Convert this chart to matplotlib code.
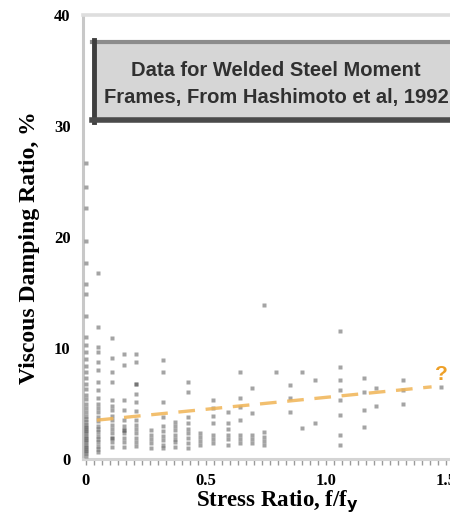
import matplotlib
matplotlib.use("Agg")
import matplotlib.pyplot as plt
from matplotlib.patches import Rectangle
from matplotlib.lines import Line2D
from matplotlib.ticker import MultipleLocator

# stress ratio columns and the damping ratios (%) measured at each one
ratio_cols = [0.0, 0.05, 0.11, 0.16, 0.21, 0.27, 0.32, 0.37, 0.425, 0.475,
              0.53, 0.59, 0.64, 0.69, 0.74, 0.79, 0.85, 0.90, 0.955,
              1.06, 1.16, 1.21, 1.32, 1.48]
damping_cols = [
    [0.3, 0.5, 0.7, 0.9, 1.1, 1.3, 1.5, 1.7, 1.9, 2.1, 2.3, 2.5, 2.7, 2.9,
     3.1, 3.3, 3.6, 3.9, 4.2, 4.6, 5.0, 5.4, 5.8, 6.3, 6.8, 7.3, 7.8, 8.4,
     9.0, 9.6, 10.3, 11.0, 12.9, 14.9, 15.8, 17.7, 19.6, 22.6, 24.5, 26.7],
    [0.6, 0.9, 1.2, 1.5, 1.8, 2.1, 2.4, 2.7, 3.0, 3.4, 3.8, 4.2, 4.6, 5.0,
     5.5, 6.2, 6.9, 8.0, 8.7, 9.6, 10.1, 11.9, 16.8],
    [1.1, 1.5, 1.9, 1.9, 2.3, 2.7, 3.1, 3.5, 3.9, 4.4, 4.8, 5.3, 6.9, 7.8,
     9.1, 10.9],
    [1.1, 1.5, 1.9, 2.3, 2.6, 2.6, 3.0, 3.5, 4.4, 5.3, 8.5, 9.5],
    [1.2, 1.5, 1.9, 2.3, 2.7, 3.1, 3.5, 4.3, 5.1, 5.9, 6.8, 6.8, 8.7, 9.5],
    [1.0, 1.4, 1.8, 2.2, 2.6],
    [1.0, 1.3, 1.7, 2.1, 2.5, 3.0, 3.8, 5.1, 7.8, 8.9],
    [1.1, 1.5, 1.8, 2.2, 2.6, 3.0, 3.3],
    [1.0, 1.4, 1.9, 2.3, 2.7, 3.2, 3.8, 6.0, 6.9],
    [1.3, 1.6, 2.0, 2.3],
    [1.4, 1.8, 2.2, 3.2, 3.9, 4.6, 5.3],
    [1.3, 1.8, 2.2, 2.7, 3.2, 4.2],
    [1.4, 1.8, 2.2, 3.5, 4.7, 5.5, 7.8],
    [1.4, 1.8, 2.2, 4.1, 6.4],
    [1.3, 1.6, 2.0, 2.4, 13.9],
    [7.8],
    [4.2, 5.5, 6.7],
    [2.8, 7.8],
    [3.2, 7.1],
    [1.3, 2.2, 4.0, 5.3, 6.2, 7.1, 8.3, 11.5],
    [2.9, 4.4, 6.0, 7.3],
    [4.8, 6.4],
    [5.0, 6.2, 7.1],
    [6.5],
]

# trend line through the data
trend_x = [0.045, 1.44]
trend_y = [3.5, 6.5]

x_ticks = [0, 0.5, 1.0, 1.5]
x_tick_labels = ["0", "0.5", "1.0", "1.5"]
y_ticks = [0, 10, 20, 30, 40]

W, H = 450, 516
fig = plt.figure(figsize=(W / 100, H / 100), dpi=100)


def fx(px):
    return px / W


def fy(py):
    return 1 - py / H


x_lo, x_hi = -0.0125, 2.0
px_per_unit = 240
ax = fig.add_axes([fx(83), fy(459), (x_hi - x_lo) * px_per_unit / W, (459 - 15) / H])

xs, ys = [], []
for r, vals in zip(ratio_cols, damping_cols):
    xs += [r] * len(vals)
    ys += vals
ax.plot(xs, ys, ls="none", marker="s", ms=2.8, mec="none", mfc="#4a4a4a",
        alpha=0.5, clip_on=False, zorder=3)

ax.plot(trend_x, trend_y, color="#f0b455", lw=2.4, alpha=0.85,
        dashes=(5, 3.2), zorder=4)
ax.text(1.48, 7.6, "?", color="#eea028", fontsize=15, fontweight="bold",
        ha="center", va="center", family="Liberation Sans")

ax.set_xlim(x_lo, x_hi)
ax.set_ylim(0, 40)

for side in ["left", "top", "bottom", "right"]:
    ax.spines[side].set_color("#c8c8c8")
ax.spines["left"].set_linewidth(2.2)
ax.spines["top"].set_linewidth(2.6)
ax.spines["top"].set_color("#dedede")
ax.spines["bottom"].set_linewidth(2.2)
ax.spines["bottom"].set_color("#d4d4d4")

ax.set_xticks(x_ticks)
ax.set_xticklabels(x_tick_labels)
ax.xaxis.set_minor_locator(MultipleLocator(1 / 30))
ax.tick_params(axis="x", which="both", direction="out", length=4,
               width=1, color="#9a9a9a", pad=6)
ax.set_yticks(y_ticks)
ax.tick_params(axis="y", length=0, pad=9)
for lab in ax.get_xticklabels() + ax.get_yticklabels():
    lab.set_family("Liberation Serif")
    lab.set_fontweight("bold")
    lab.set_fontsize(12)

fig.text(fx(277), fy(502), "Stress Ratio, f/f$_\\mathbf{y}$", ha="center",
         va="center", fontsize=16.5, fontweight="bold", family="Liberation Serif")
fig.text(fx(30), fy(248), "Viscous Damping Ratio, %", ha="center",
         va="center", rotation=90, fontsize=17, fontweight="bold",
         family="Liberation Serif")

# label box, running off the right edge
box_l, box_t, box_r, box_b = 92, 40, 490, 122
fig.add_artist(Rectangle((fx(box_l), fy(box_b)), fx(box_r - box_l), (box_b - box_t) / H,
                         transform=fig.transFigure, facecolor="#d6d6d6",
                         edgecolor="none"))
fig.add_artist(Line2D([fx(box_l), fx(box_r)], [fy(box_t + 2), fy(box_t + 2)],
                      transform=fig.transFigure, color="#8c8c8c", lw=3))
fig.add_artist(Line2D([fx(box_l + 2), fx(box_l + 2)], [fy(box_t), fy(box_b)],
                      transform=fig.transFigure, color="#3e3e3e", lw=3.5))
fig.add_artist(Line2D([fx(box_l), fx(box_r)], [fy(box_b - 2), fy(box_b - 2)],
                      transform=fig.transFigure, color="#4a4a4a", lw=4))
fig.text(fx(276), fy(70), "Data for Welded Steel Moment", ha="center",
         va="center", fontsize=14.5, fontweight="bold", color="#303030",
         family="Liberation Sans")
fig.text(fx(276), fy(97), "Frames, From Hashimoto et al, 1992", ha="center",
         va="center", fontsize=14.5, fontweight="bold", color="#303030",
         family="Liberation Sans")

fig.savefig("out.png", dpi=100)
